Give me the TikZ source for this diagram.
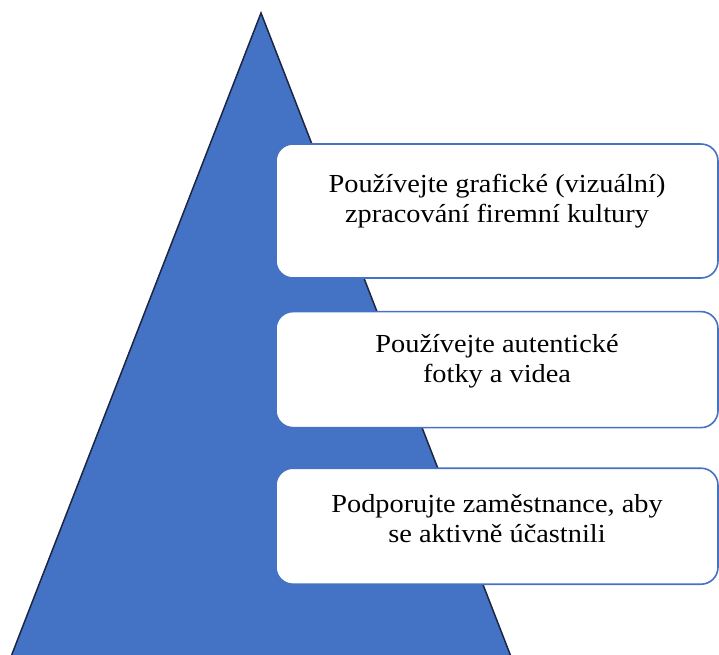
\documentclass[tikz,border=0pt]{standalone}
\usepackage{fontspec}
\setmainfont{Liberation Serif}[FakeStretch=1.09]
\definecolor{pyblue}{RGB}{68,114,196}
\definecolor{pyedge}{RGB}{28,38,66}
\usetikzlibrary{positioning}

\begin{document}
\begin{tikzpicture}[x=1pt, y=-1pt,
    tipbox/.style={draw=pyblue, line width=1.6pt, fill=white, rounded corners=17pt,
      minimum width=442pt, inner sep=0pt},
    tiptext/.style={align=center, font=\fontsize{26}{30}\selectfont, inner sep=0pt}]
    \useasboundingbox (0,0) rectangle (719,654);
    \clip (0,0) rectangle (719,654);

    % Pyramid
    \fill[pyblue] (261,13) -- (0,685) -- (522,685) -- cycle;
    \draw[pyedge, line width=1.5pt, line join=miter] (0,685) -- (261,13) -- (522,685);

    % Boxes
    \node[tipbox, minimum height=134pt] (box1) at (497,211) {};
    \node[tipbox, minimum height=116pt, below=32pt of box1] (box2) {};
    \node[tipbox, minimum height=116pt, below=39pt of box2] (box3) {};

    % Texts
    \node[tiptext] (txt1) at ([yshift=10pt]box1.center) {Používejte grafické (vizuální)\\zpracování firemní kultury};
    \node[tiptext] (txt2) at ([yshift=8pt]box2.center) {Používejte autentické\\fotky a videa};
    \node[tiptext] (txt3) at ([yshift=8pt]box3.center) {Podporujte zaměstnance, aby\\se aktivně účastnili};
\end{tikzpicture}
\end{document}
